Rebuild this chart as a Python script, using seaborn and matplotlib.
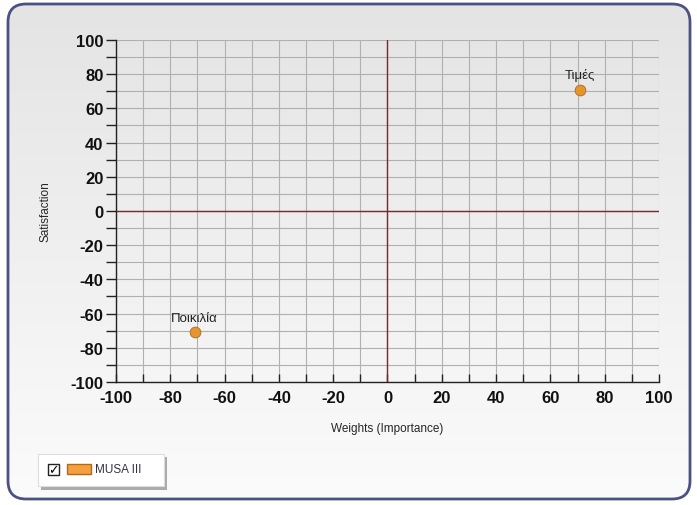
import numpy as np
import pandas as pd
import matplotlib
matplotlib.use('Agg')
import matplotlib.pyplot as plt
from matplotlib.patches import FancyBboxPatch, Rectangle
import seaborn as sns

sns.set_theme(style='white')
plt.rcParams['font.family'] = ['Liberation Sans', 'DejaVu Sans']
plt.rcParams['axes.unicode_minus'] = False

# data
labels = ['Τιμές', 'Ποικιλία']
weights = [71, -71]
satisfaction = [71, -71]
series_name = 'MUSA III'
ticks = list(range(-100, 101, 20))

df = pd.DataFrame({'Weights': weights, 'Satisfaction': satisfaction, 'Label': labels})

fig = plt.figure(figsize=(6.97, 5.06), dpi=100)

# background gradient with rounded border
bg = fig.add_axes([0, 0, 1, 1], zorder=-10)
bg.set_xlim(0, 697)
bg.set_ylim(506, 0)
bg.axis('off')
grad = np.linspace(0, 1, 256).reshape(-1, 1)
img = bg.imshow(grad, extent=[8, 690, 500, 5], cmap=matplotlib.colors.LinearSegmentedColormap.from_list(
    'g', ['#e4e4e4', '#fbfbfb']), aspect='auto')
frame = FancyBboxPatch((8, 5), 682, 495, boxstyle='round,pad=0,rounding_size=18',
                       fc='none', ec='#4b5283', lw=2)
bg.add_patch(frame)
img.set_clip_path(frame)

ax = fig.add_axes([0.1664, 0.2431, 0.7791, 0.6759])
ax.patch.set_alpha(0)
ax.set_xlim(-100, 100)
ax.set_ylim(-100, 100)
ax.set_xticks(ticks)
ax.set_yticks(ticks)
ax.set_xticks(range(-100, 101, 10), minor=True)
ax.set_yticks(range(-100, 101, 10), minor=True)
ax.grid(True, which='both', color='#b0b0b0', lw=0.8)
ax.axhline(0, color='#9b1c1c', lw=1)
ax.axvline(0, color='#9b1c1c', lw=1)
for s in ['top', 'right']:
    ax.spines[s].set_visible(False)
for s in ['left', 'bottom']:
    ax.spines[s].set_color('#222222')
    ax.spines[s].set_linewidth(1)

sns.scatterplot(data=df, x='Weights', y='Satisfaction', ax=ax, color='#e3962f',
                edgecolor='#b06a1a', s=60, zorder=5, legend=False)
for x, y, t in zip(weights, satisfaction, labels):
    ax.text(x, y + 5, t, ha='center', va='bottom', fontsize=9.5, color='#222222', zorder=6)

ax.tick_params(axis='y', which='major', direction='out', length=7, width=1, color='#222222',
               labelsize=12, pad=2, left=True)
ax.tick_params(axis='y', which='minor', direction='out', length=7, width=1, color='#222222', left=True)
ax.tick_params(axis='x', which='both', direction='in', length=6, width=1, color='#222222',
               labelsize=12, pad=6, bottom=True)
for lab in ax.get_xticklabels() + ax.get_yticklabels():
    lab.set_fontweight('bold')
    lab.set_color('#111111')

ax.set_xlabel('Weights (Importance)', fontsize=8.5, labelpad=12)
ax.set_ylabel('Satisfaction', fontsize=8.5, labelpad=14)

# legend box
lg = fig.add_axes([0, 0, 1, 1], zorder=5)
lg.set_xlim(0, 697)
lg.set_ylim(506, 0)
lg.axis('off')
lg.add_patch(Rectangle((41, 458), 126, 33, fc='#777777', ec='none', alpha=0.6))
lg.add_patch(Rectangle((38, 455), 126, 32, fc='white', ec='#dddddd', lw=0.8))
lg.add_patch(Rectangle((48, 465), 11, 11, fc='white', ec='#222222', lw=1))
lg.text(53.5, 471, '✓', ha='center', va='center', fontsize=9, fontweight='bold', color='black',
        family='DejaVu Sans')
lg.add_patch(Rectangle((67, 465), 24, 10, fc='#f5a040', ec='#b06a1a', lw=1))
lg.text(95, 470.5, series_name, ha='left', va='center', fontsize=8.5, color='#333344')

fig.savefig('out.png', dpi=100)
